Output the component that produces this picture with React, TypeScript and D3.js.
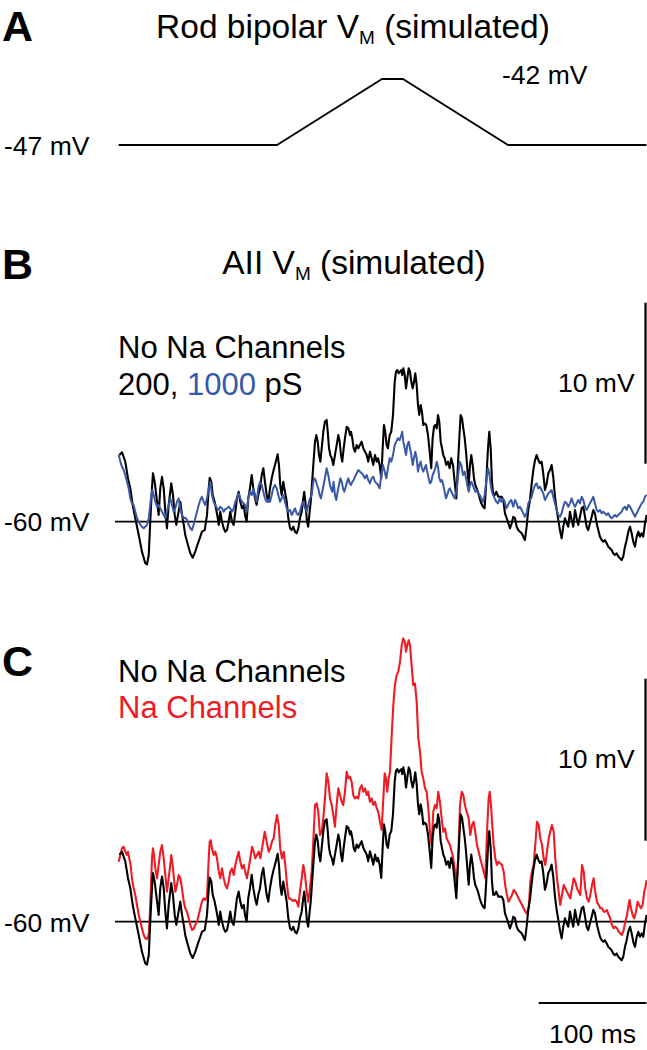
import React from 'react';
import * as d3 from 'd3';

// ---------- DATA (time in ms, voltage in mV) ----------
const TIME_END = 490;

// Panel A: rod bipolar membrane potential (absolute mV)
const rodBipolarVm: [number, number][] = [
  [0, -47], [147, -47], [244.5, -42], [264, -42], [361.5, -47], [490, -47],
];

// Panel B/C: AII membrane potential, deviation from -60 mV rest
const noNa200pS: [number, number][] = [
  [0.6,4.14],[3.1,4.31],[6.1,3.73],[8.6,2.70],[10.8,2.07],[13.0,1.04],[15.4,0.21],[18.6,-0.83],[21.6,-1.86],[24.7,-2.58],[26.3,-2.65],[27.9,-2.07],[29.3,0],[30.9,2.07],[31.8,3.01],[33.4,2.48],[35.6,1.24],[37.1,0.42],[38.6,2.07],[40.2,2.79],[41.8,2.07],[43.3,0.62],[44.8,-0.41],[46.4,1.04],[48.8,2.38],[50.4,1.66],[52.0,0.42],[53.5,-0.20],[55.1,0.42],[57.2,1.24],[58.8,0.42],[60.4,-0.20],[61.8,-0.83],[64.3,-1.45],[66.5,-1.96],[68.7,-2.24],[71.1,-1.86],[73.6,-1.34],[75.8,-0.93],[77.3,-0.62],[79.9,-0.52],[82.0,0.42],[83.6,2.07],[84.5,2.73],[86.0,2.48],[87.3,1.66],[89.1,1.24],[90.3,0.83],[91.5,0.42],[92.9,-0.20],[94.3,0.62],[95.9,0],[97.5,-0.41],[99.0,-0.62],[100.6,-0.52],[102.1,0],[103.6,0.62],[105.2,0],[106.8,-0.20],[108.3,0.62],[109.8,1.45],[111.4,1.86],[112.9,1.24],[114.5,0.83],[116.1,1.04],[117.3,0.42],[118.8,0],[120.3,1.45],[121.9,2.07],[123.5,2.90],[125.0,2.07],[126.6,1.45],[128.1,1.04],[129.6,1.66],[131.2,2.07],[132.8,2.90],[134.3,3.32],[135.8,2.48],[137.4,1.66],[138.9,1.24],[140.5,2.07],[142.1,2.70],[143.5,3.11],[145.1,3.52],[146.7,3.94],[147.6,4.19],[148.8,3.52],[150.0,2.28],[151.3,1.66],[152.8,2.48],[154.4,1.86],[156.0,1.24],[157.5,0.21],[159.1,-0.41],[160.6,-0.52],[162.1,-0.31],[163.7,-0.62],[165.3,-0.72],[166.8,-0.41],[168.3,0.21],[169.9,0.62],[171.4,1.45],[172.3,1.86],[173.6,1.04],[174.8,0],[176.0,-0.31],[177.0,0.42],[178.3,1.24],[179.2,2.07],[180.7,3.52],[182.3,4.97],[183.5,5.38],[184.8,4.97],[186.0,4.14],[187.2,3.73],[188.5,4.56],[190.0,5.59],[191.5,6.21],[193.1,6.32],[194.1,5.59],[195.3,4.56],[196.5,4.14],[197.8,3.94],[199.3,3.52],[200.8,4.14],[202.4,4.76],[203.9,5.38],[205.2,4.97],[206.4,4.14],[207.6,3.73],[208.9,4.56],[210.1,5.18],[211.7,5.90],[213.2,5.80],[214.8,5.38],[215.7,5.59],[216.9,5.18],[218.2,4.56],[219.4,4.35],[221.0,4.76],[222.5,4.56],[224.0,4.76],[225.6,4.97],[227.1,4.56],[228.7,4.35],[230.3,4.14],[231.7,3.73],[233.3,4.35],[234.9,3.94],[236.4,3.52],[238.0,4.14],[239.6,3.73],[240.8,3.94],[242.3,3.52],[243.8,2.70],[245.1,4.56],[246.3,6.01],[247.5,5.59],[248.8,4.76],[250.0,4.56],[251.6,5.38],[253.1,5.59],[254.7,6.63],[256.3,8.69],[257.5,9.32],[258.7,9.42],[260.0,9.22],[261.2,9.32],[262.4,9.42],[263.3,9.11],[264.3,9.53],[265.6,9.11],[266.8,8.28],[268.0,8.91],[269.3,9.53],[270.5,9.32],[271.7,8.69],[273.0,8.28],[274.2,8.69],[275.4,9.22],[276.7,8.49],[277.9,7.25],[279.1,6.63],[280.4,7.25],[281.6,6.83],[282.8,6.01],[284.1,6.11],[285.6,6.01],[287.2,5.38],[288.8,4.35],[290.2,3.32],[291.5,5.18],[292.8,5.90],[294.0,6.01],[295.3,5.80],[296.5,6.63],[297.7,6.21],[299.0,4.97],[300.2,4.56],[301.4,4.14],[302.7,3.94],[304.2,3.52],[305.8,3.73],[307.3,3.32],[308.8,3.94],[310.4,3.52],[312.0,2.48],[313.5,1.45],[315.0,3.52],[316.6,5.59],[317.5,6.63],[318.8,6.42],[320.0,5.80],[321.3,5.18],[322.5,4.35],[323.7,3.32],[325.0,2.28],[326.2,3.52],[327.4,4.14],[328.7,3.52],[329.9,2.70],[331.1,2.28],[332.4,2.07],[333.6,1.86],[335.2,1.45],[336.7,1.14],[338.3,0.93],[339.8,0.83],[341.3,2.48],[342.9,4.56],[344.1,5.59],[345.4,4.56],[346.6,2.48],[347.8,1.66],[349.1,1.66],[350.6,1.86],[352.5,1.55],[355.6,1.55],[357.1,1.35],[358.7,0.52],[360.8,0.11],[363.3,-0.41],[364.9,-0.10],[366.4,0.31],[368.0,0.21],[369.5,-0.31],[371.0,-0.52],[372.6,-0.62],[374.2,-0.72],[375.7,-0.93],[377.2,-1.14],[378.8,-0.31],[380.3,0.73],[381.9,1.35],[383.5,2.38],[385.0,3.21],[386.6,3.83],[388.1,4.14],[389.6,3.83],[391.2,3.63],[392.7,3.73],[394.2,3.01],[395.8,1.97],[397.4,2.38],[398.9,3.01],[400.5,3.21],[402.0,3.52],[403.5,2.79],[405.1,1.55],[406.7,0.73],[408.2,0.11],[409.7,-0.52],[411.3,-1.03],[412.8,-0.31],[414.4,0.21],[416.0,-0.10],[417.5,-0.31],[419.0,0.62],[420.6,0.11],[422.1,-0.31],[423.7,0.73],[425.2,0.21],[426.7,-0.20],[428.3,0.31],[429.9,0.83],[431.4,0.93],[433.0,0.31],[434.5,-0.31],[436.0,-0.52],[437.6,-0.10],[439.2,0.31],[440.7,0.73],[442.2,0.52],[443.8,-0.10],[445.3,-0.52],[446.9,-0.93],[448.5,-1.14],[450.0,-1.24],[451.5,-1.14],[453.1,-1.34],[454.6,-1.55],[456.2,-1.65],[457.7,-1.76],[459.2,-1.96],[460.8,-2.07],[462.4,-1.96],[463.9,-2.17],[465.5,-2.27],[467.0,-2.38],[468.5,-2.17],[470.1,-1.55],[471.7,-1.14],[473.2,-0.62],[474.8,-0.31],[476.3,-0.72],[477.8,-1.24],[479.4,-1.55],[481.0,-0.93],[482.5,-0.62],[484.0,-0.93],[485.6,-0.72],[487.1,-0.93],[488.7,-0.10],[490.2,0.42],
];

const noNa1000pS: [number, number][] = [
  [0,4.14],[2.4,3.52],[4.6,3.21],[6.1,2.90],[7.7,2.48],[9.3,2.07],[10.8,1.45],[12.3,1.14],[13.9,1.04],[15.4,0.62],[17.0,0.21],[18.6,0],[20.1,-0.20],[21.6,-0.31],[23.2,-0.41],[24.7,-0.31],[26.3,-0.20],[27.9,0.21],[29.3,1.04],[30.3,1.66],[31.2,1.97],[32.5,1.66],[34.0,1.24],[35.6,0.93],[37.1,1.04],[38.6,0.83],[40.2,0.62],[41.8,0.42],[43.3,0.21],[44.8,0.62],[46.4,1.04],[47.9,1.45],[49.5,1.04],[51.1,0.62],[52.6,0.83],[54.1,1.24],[55.7,1.45],[57.2,0.83],[58.8,0.42],[60.4,0.21],[61.8,0.25],[63.4,0.11],[65.0,-0.20],[66.5,-0.41],[68.1,-0.52],[69.6,-0.20],[71.1,0.21],[72.7,0.62],[74.3,1.04],[75.8,1.35],[77.3,1.55],[78.9,1.24],[80.4,1.04],[82.0,1.45],[83.6,2.07],[85.1,2.48],[86.6,1.66],[88.2,1.24],[89.7,1.04],[91.3,0.83],[92.9,0.73],[94.3,0.93],[95.9,0.83],[97.5,0.62],[99.0,0.79],[100.6,0.83],[102.1,0.93],[103.6,0.83],[105.2,0.62],[106.8,0.83],[108.3,1.24],[109.8,1.45],[111.4,1.76],[112.9,1.45],[114.5,1.24],[116.1,1.14],[117.3,1.04],[118.8,0.62],[120.3,1.45],[121.9,1.86],[123.5,1.66],[125.0,2.07],[126.6,1.66],[128.1,1.24],[129.6,2.07],[131.2,2.48],[132.8,2.28],[134.3,1.86],[135.8,1.45],[137.4,1.24],[138.9,1.35],[140.5,1.24],[142.1,1.66],[143.5,2.07],[145.1,2.28],[146.7,2.07],[148.2,1.66],[149.8,1.24],[151.3,1.45],[152.8,1.66],[154.4,1.24],[156.0,0.83],[157.5,0.62],[159.1,0.73],[160.6,0.42],[162.1,0.62],[163.7,0.83],[165.3,0.52],[166.8,0.42],[168.3,0.62],[169.9,1.04],[171.4,1.24],[173.0,0.83],[174.6,0.62],[176.0,1.04],[177.6,1.45],[179.2,1.66],[180.7,2.48],[181.6,2.70],[182.9,2.59],[184.1,2.28],[185.3,2.07],[186.6,1.66],[187.8,1.45],[189.0,1.86],[190.3,2.28],[191.5,2.70],[193.1,3.32],[194.6,2.90],[196.2,2.28],[197.1,2.07],[198.3,1.86],[199.6,2.48],[200.8,1.66],[202.0,1.35],[203.3,1.86],[204.5,2.28],[205.8,2.70],[207.1,2.48],[208.3,2.07],[209.5,1.86],[210.8,2.17],[212.0,2.48],[213.2,2.70],[214.5,2.38],[215.7,2.28],[216.9,2.48],[218.2,2.59],[219.4,2.79],[221.0,3.01],[222.5,3.21],[224.0,3.11],[225.6,3.01],[227.1,2.90],[228.7,2.70],[230.3,2.90],[231.7,2.59],[233.3,2.38],[234.9,2.70],[236.4,2.79],[238.0,2.48],[239.6,2.38],[240.8,2.28],[242.3,2.07],[243.8,2.90],[245.4,3.52],[247.0,3.11],[248.5,2.70],[250.0,3.32],[251.6,3.94],[253.1,3.73],[254.7,4.14],[256.3,4.76],[257.7,4.97],[259.3,5.18],[260.9,5.07],[262.4,5.38],[263.3,5.59],[264.3,4.97],[265.6,4.56],[266.8,4.14],[268.0,4.76],[269.3,4.97],[270.5,4.56],[271.7,4.14],[273.0,3.52],[274.2,3.94],[275.4,4.35],[276.7,3.94],[277.9,3.11],[279.1,3.52],[280.4,3.73],[281.6,3.32],[282.8,3.11],[284.1,3.32],[285.3,3.52],[286.5,3.11],[287.8,2.70],[289.0,2.38],[290.2,2.48],[291.5,2.90],[292.8,3.11],[294.0,3.32],[295.3,3.73],[296.5,3.42],[297.7,2.70],[299.0,2.48],[300.2,2.59],[301.4,2.28],[302.7,1.86],[303.9,1.45],[305.1,1.66],[306.4,1.97],[307.6,2.07],[308.8,1.86],[310.4,1.66],[312.0,1.45],[313.5,1.86],[315.0,2.70],[316.6,3.73],[318.1,3.52],[319.7,2.90],[321.3,3.11],[322.5,2.70],[323.7,2.28],[325.0,1.86],[326.2,2.28],[327.4,2.48],[328.7,2.28],[329.9,2.07],[331.1,1.86],[332.4,1.97],[333.6,1.76],[335.2,1.66],[336.7,1.45],[338.3,1.24],[339.8,1.66],[341.3,2.48],[342.9,3.32],[344.1,3.01],[345.4,2.28],[346.6,1.86],[347.8,1.66],[349.1,1.45],[350.6,1.24],[352.2,1.14],[353.8,1.45],[355.3,1.24],[356.8,1.45],[358.4,1.24],[359.9,0.83],[361.5,1.04],[363.0,1.24],[364.5,1.35],[366.4,0.93],[368.0,1.35],[369.5,1.14],[371.0,0.83],[372.6,0.93],[374.2,0.73],[375.7,0.52],[377.2,0.31],[378.8,0.52],[380.3,1.14],[381.9,1.35],[383.5,1.55],[385.0,1.97],[386.6,2.28],[388.1,2.38],[389.6,2.07],[391.2,2.17],[392.7,1.97],[394.2,1.76],[395.8,1.35],[397.4,1.55],[398.9,1.76],[400.5,1.86],[402.0,1.97],[403.5,1.55],[405.1,1.14],[406.7,0.73],[408.2,0.42],[409.7,0.31],[411.3,0.52],[412.8,0.93],[414.4,1.24],[416.0,1.14],[417.5,0.93],[419.0,1.14],[420.6,1.45],[422.1,1.14],[423.7,0.93],[425.2,1.14],[426.7,1.35],[428.3,1.14],[429.9,1.55],[431.4,1.35],[433.0,0.93],[434.5,0.73],[436.0,0.93],[437.6,1.14],[439.2,1.35],[440.7,1.55],[442.2,1.14],[443.8,0.73],[445.3,0.62],[446.9,0.73],[448.5,0.52],[450.0,0.62],[451.5,0.52],[453.1,0.42],[454.6,0.52],[456.2,0.31],[457.7,0.21],[459.2,0.31],[460.8,0.42],[462.4,0.31],[463.9,0.42],[465.5,0.52],[467.0,0.62],[468.5,0.83],[470.1,0.93],[471.7,0.73],[473.2,1.04],[474.8,0.93],[476.3,0.73],[477.8,0.52],[479.4,0.31],[481.0,0.52],[482.5,0.73],[484.0,0.93],[485.6,1.14],[487.1,1.24],[488.7,1.55],[490.2,1.66],
];

const naChannels: [number, number][] = [
  [0,3.70],[1.5,4.12],[3.1,4.53],[4.6,4.63],[6.1,4.32],[7.7,4.12],[8.6,4.32],[9.8,3.91],[11.1,3.50],[12.3,2.68],[13.9,2.06],[15.4,1.65],[17.0,1.03],[18.6,0.41],[20.1,0],[21.6,-0.41],[23.2,-0.82],[24.7,-1.02],[26.3,-1.07],[27.9,-0.82],[28.8,0.21],[30.0,2.26],[30.9,3.91],[31.8,4.53],[32.8,4.12],[34.0,3.29],[35.6,2.68],[37.1,3.50],[38.6,4.32],[40.2,4.73],[41.8,3.91],[43.3,2.88],[44.8,1.85],[46.4,2.68],[47.9,3.50],[48.8,4.12],[50.1,3.50],[51.3,2.68],[52.6,1.85],[54.1,2.26],[55.7,2.88],[57.2,2.68],[58.8,2.06],[60.4,1.23],[61.8,0.83],[63.4,0.62],[65.0,0.21],[66.5,-0.20],[68.1,-0.51],[69.6,-0.45],[71.1,-0.20],[72.7,0],[74.3,0.41],[75.8,0.83],[77.3,1.23],[78.9,1.44],[80.4,1.34],[82.0,1.54],[83.6,3.91],[84.5,4.94],[85.4,5.04],[86.6,4.53],[88.2,4.12],[89.7,4.32],[91.3,3.91],[92.9,3.09],[94.3,2.68],[95.9,3.29],[97.5,2.68],[99.0,2.26],[100.6,2.06],[102.1,2.47],[103.6,3.09],[105.2,3.29],[106.8,2.88],[108.3,3.50],[109.8,3.91],[111.4,4.32],[112.9,3.70],[114.5,3.29],[116.1,3.50],[117.5,3.09],[119.1,2.68],[120.7,3.29],[122.2,3.91],[123.8,4.63],[125.3,4.32],[126.8,3.91],[128.4,4.12],[130.0,4.32],[131.5,3.91],[133.1,4.53],[134.6,5.15],[135.6,5.55],[136.8,5.15],[138.0,4.73],[139.3,4.32],[140.8,4.53],[142.3,4.94],[143.9,5.15],[145.4,5.97],[147.0,6.58],[148.6,5.97],[150.0,4.53],[151.6,3.91],[153.2,4.32],[154.7,3.50],[156.3,2.26],[157.8,1.44],[159.1,1.44],[160.6,1.34],[162.1,1.28],[163.7,1.34],[165.3,1.23],[166.8,0.93],[168.3,1.85],[169.9,2.68],[171.4,3.50],[173.0,2.88],[174.6,1.85],[176.0,1.23],[177.6,2.06],[179.2,3.09],[180.7,4.94],[182.3,7.20],[183.8,7.31],[185.3,6.79],[186.9,5.35],[188.5,5.55],[190.0,6.38],[191.5,7.61],[193.1,9.16],[194.6,8.64],[196.2,7.61],[197.8,7.20],[199.3,6.58],[200.8,5.86],[202.4,7.20],[203.9,8.23],[205.5,7.82],[207.1,7.40],[208.5,7.20],[210.1,8.02],[211.7,9.26],[213.2,8.85],[214.8,8.95],[216.3,8.64],[217.8,7.82],[219.4,7.61],[221.0,7.71],[222.5,7.61],[224.0,8.23],[225.6,8.43],[227.1,8.02],[228.7,8.23],[230.3,7.82],[231.7,8.02],[233.3,7.40],[234.9,7.61],[236.4,7.20],[238.0,7.40],[239.6,7.00],[241.0,6.79],[242.6,6.17],[244.2,5.66],[245.7,7.61],[247.0,9.16],[248.2,8.85],[249.4,8.02],[250.7,8.85],[251.9,9.26],[253.5,11.52],[255.0,13.37],[256.5,14.60],[258.1,15.22],[259.6,15.43],[261.2,16.04],[262.8,17.07],[264.2,17.49],[265.8,17.28],[266.8,16.66],[268.0,17.07],[269.3,17.38],[270.5,17.07],[272.0,15.84],[273.5,14.60],[275.1,14.71],[276.7,13.57],[278.2,11.32],[279.8,10.49],[281.3,9.26],[282.8,8.85],[284.4,8.23],[286.0,8.02],[287.5,7.00],[289.0,5.55],[290.6,4.73],[292.1,6.79],[293.7,7.20],[295.3,7.00],[296.7,8.02],[298.3,7.40],[299.9,6.38],[301.4,5.55],[303.0,5.76],[304.5,5.15],[306.0,4.94],[307.6,4.73],[309.2,4.32],[310.7,3.91],[312.3,3.09],[313.8,2.47],[315.3,3.91],[316.9,7.20],[318.5,8.02],[320.0,7.82],[321.5,7.20],[323.1,6.79],[325.0,6.38],[326.5,5.35],[328.1,5.97],[329.6,6.17],[331.1,5.55],[332.7,4.73],[334.3,4.32],[335.7,3.91],[337.3,3.50],[338.9,3.09],[340.4,2.68],[342.0,5.55],[343.5,7.61],[344.5,8.02],[345.7,7.20],[346.9,5.97],[348.2,4.73],[349.7,3.91],[351.2,3.50],[352.8,3.70],[354.3,3.60],[355.9,3.50],[357.5,3.09],[358.9,2.26],[360.5,1.65],[362.1,1.23],[363.6,1.44],[365.2,1.65],[366.8,1.96],[368.2,1.85],[369.8,1.65],[371.4,1.44],[372.9,1.23],[374.5,1.03],[376.0,0.83],[377.5,0.62],[379.1,0.52],[380.7,0.83],[382.2,2.47],[383.7,3.09],[385.3,3.50],[386.8,4.73],[388.4,6.17],[390.0,5.97],[391.5,5.15],[393.1,4.73],[394.6,3.91],[396.1,3.50],[397.7,4.32],[399.3,5.15],[400.7,5.55],[402.3,5.97],[403.9,5.55],[405.4,3.91],[407.0,2.68],[408.5,1.85],[410.0,1.03],[411.6,1.65],[413.2,2.26],[414.7,2.06],[416.2,1.85],[417.8,1.65],[419.3,1.44],[420.9,2.06],[422.5,2.68],[424.0,2.47],[425.5,2.06],[427.1,1.85],[428.6,1.65],[430.2,3.50],[431.8,3.09],[433.2,2.06],[434.8,1.44],[436.4,1.23],[437.9,1.65],[439.5,2.26],[441.0,2.68],[442.5,1.85],[444.1,1.23],[445.7,1.03],[447.2,0.83],[448.8,0.83],[450.3,0.62],[451.8,0.62],[453.4,0.72],[455.0,0.41],[456.4,0.21],[458.0,-0.20],[459.6,-0.41],[461.1,-0.31],[462.7,-0.41],[464.3,-0.62],[465.7,-0.72],[467.3,-0.82],[468.9,-0.51],[470.4,0],[472.0,0.41],[473.5,1.03],[474.4,1.34],[475.7,0.83],[477.2,0.41],[478.7,0.21],[480.3,0.62],[481.9,1.23],[483.3,1.03],[484.9,0.83],[486.5,1.03],[488.0,1.85],[488.9,2.06],[490.2,2.57],
];

// Scale bar values
const scaleBarMv = 10;
const scaleBarMs = 100;
const restLabel = '-60 mV';

// ---------- LAYOUT ----------
const W = 647;
const H = 1050;
const FONT = "'Liberation Sans', Arial, Helvetica, sans-serif";

const x = d3.scaleLinear().domain([0, TIME_END]).range([118.7, 646.4]);
const yA = d3.scaleLinear().domain([-47, -42]).range([145, 79]);
const yB = d3.scaleLinear().domain([0, 10]).range([521.7, 360.7]);
const yC = d3.scaleLinear().domain([0, 10]).range([921.7, 759.7]);

const lineFor = (ys: d3.ScaleLinear<number, number>) =>
  d3.line<[number, number]>().x((d) => x(d[0])).y((d) => ys(d[1]));

const BLACK = '#000000';
const BLUE = '#3a58a8';
const RED = '#ee1c24';

export default function App() {
  const lineA = lineFor(yA);
  const lineB = lineFor(yB);
  const lineC = lineFor(yC);

  return (
    <svg
      width={W}
      height={H}
      viewBox={`0 0 ${W} ${H}`}
      style={{ position: 'absolute', left: 0, top: 0, background: '#fff', fontFamily: FONT }}
    >
      <rect x={0} y={0} width={W} height={H} fill="#fff" />

      {/* ---------- Panel A ---------- */}
      <text x={2} y={41} fontSize={43} fontWeight="bold">A</text>
      <text x={353} y={38} fontSize={33.5} textAnchor="middle">
        Rod bipolar V<tspan fontSize={19} dy={6}>M</tspan>
        <tspan dy={-6}> (simulated)</tspan>
      </text>
      <text x={4} y={155} fontSize={26.5}>-47 mV</text>
      <text x={502} y={84} fontSize={26.5}>-42 mV</text>
      <path d={lineA(rodBipolarVm) || ''} fill="none" stroke={BLACK} strokeWidth={2} strokeLinejoin="round" />

      {/* ---------- Panel B ---------- */}
      <text x={2} y={279} fontSize={43} fontWeight="bold">B</text>
      <text x={354} y={274} fontSize={33.5} textAnchor="middle">
        AII V<tspan fontSize={19} dy={6}>M</tspan>
        <tspan dy={-6}> (simulated)</tspan>
      </text>
      <text x={118} y={358} fontSize={31}>No Na Channels</text>
      <text x={118} y={395} fontSize={31}>
        200, <tspan fill={BLUE}>1000</tspan> pS
      </text>
      <text x={558} y={392} fontSize={26.5}>{scaleBarMv} mV</text>
      <line x1={645.5} x2={645.5} y1={yB(3.6)} y2={yB(3.6 + scaleBarMv)} stroke={BLACK} strokeWidth={2.2} />
      <text x={4} y={531} fontSize={26.5}>{restLabel}</text>
      <line x1={115} x2={647} y1={yB(0)} y2={yB(0)} stroke={BLACK} strokeWidth={1.8} />
      <path d={lineB(noNa200pS) || ''} fill="none" stroke={BLACK} strokeWidth={2.1} strokeLinejoin="round" />
      <path d={lineB(noNa1000pS) || ''} fill="none" stroke={BLUE} strokeWidth={2} strokeLinejoin="round" />

      {/* ---------- Panel C ---------- */}
      <text x={2} y={676} fontSize={43} fontWeight="bold">C</text>
      <text x={118} y={682} fontSize={31}>No Na Channels</text>
      <text x={118} y={718} fontSize={31} fill={RED}>Na Channels</text>
      <text x={558} y={768} fontSize={26.5}>{scaleBarMv} mV</text>
      <line x1={645.5} x2={645.5} y1={yC(5)} y2={yC(5 + scaleBarMv)} stroke={BLACK} strokeWidth={2.2} />
      <text x={4} y={932} fontSize={26.5}>{restLabel}</text>
      <line x1={115} x2={647} y1={yC(0)} y2={yC(0)} stroke={BLACK} strokeWidth={1.8} />
      <path d={lineC(naChannels) || ''} fill="none" stroke={RED} strokeWidth={2.1} strokeLinejoin="round" />
      <path d={lineC(noNa200pS) || ''} fill="none" stroke={BLACK} strokeWidth={2.1} strokeLinejoin="round" />

      {/* time scale bar */}
      <line x1={x(TIME_END - scaleBarMs)} x2={x(TIME_END)} y1={1003} y2={1003} stroke={BLACK} strokeWidth={2.2} />
      <text x={(x(TIME_END - scaleBarMs) + x(TIME_END)) / 2} y={1043} fontSize={26.5} textAnchor="middle">
        {scaleBarMs} ms
      </text>
    </svg>
  );
}
